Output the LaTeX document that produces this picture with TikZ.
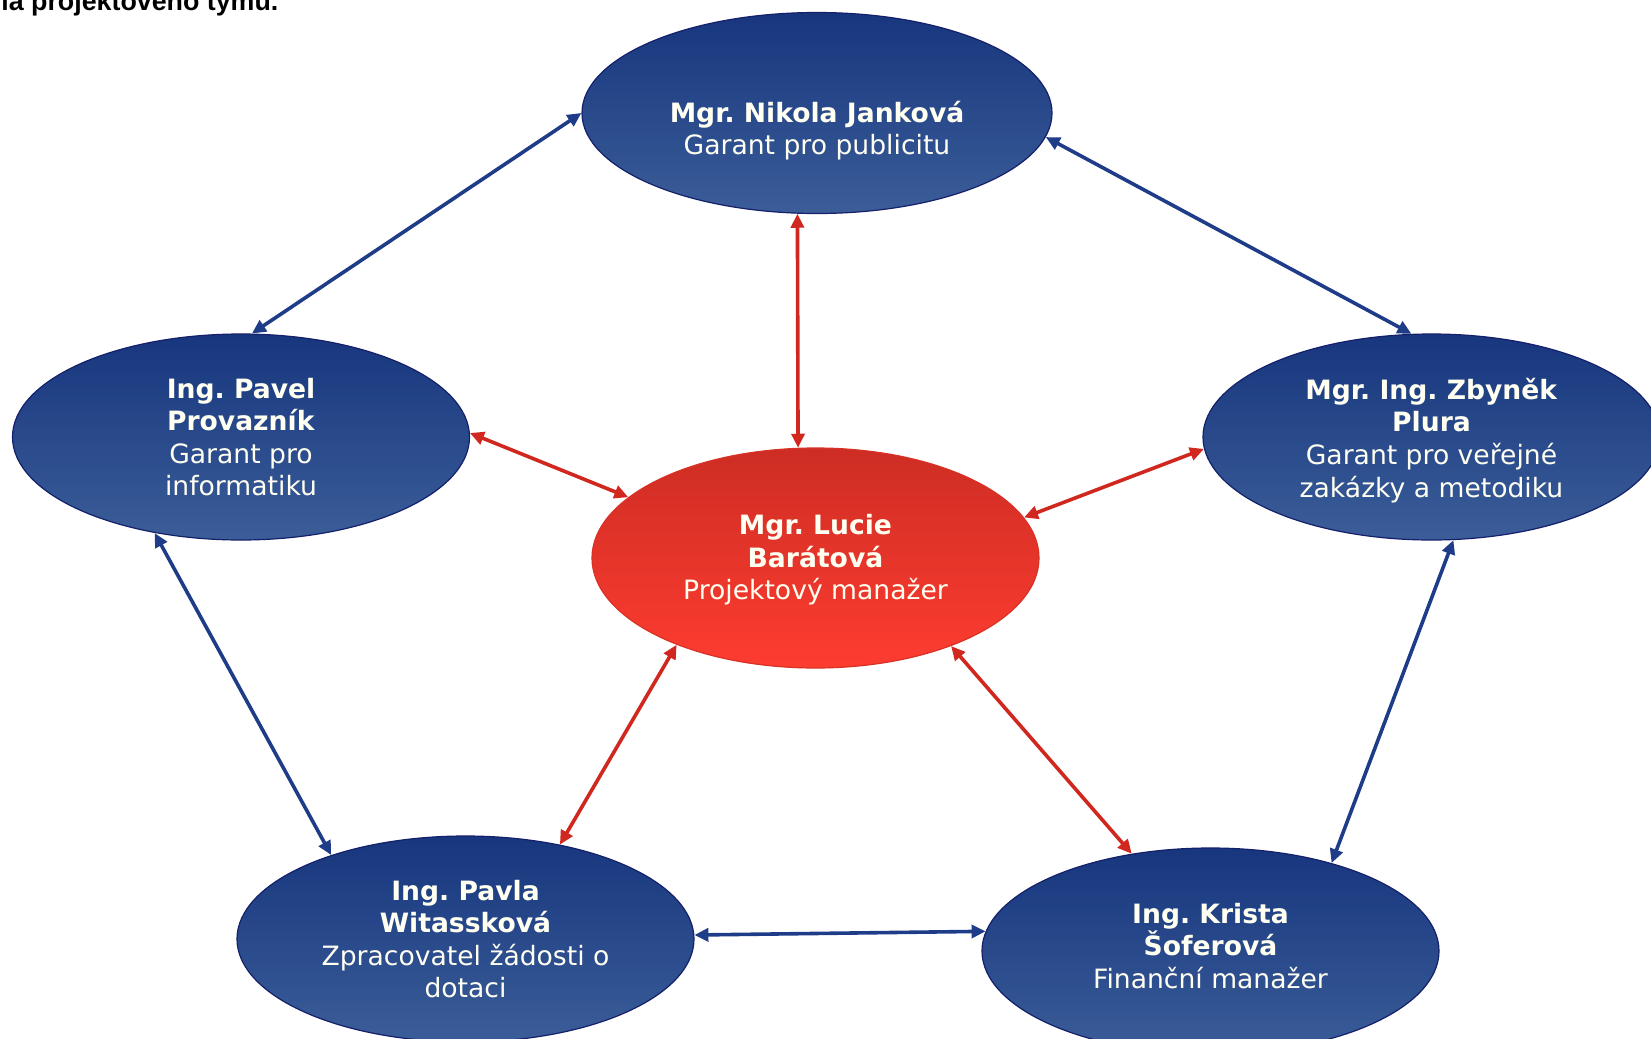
\documentclass[tikz,border=0pt]{standalone}
\usepackage{fontspec}
\setmainfont{DejaVu Sans}
\newfontfamily\headfont{Liberation Sans}
\usetikzlibrary{shapes.geometric,arrows.meta}
\definecolor{navytop}{HTML}{17367E}
\definecolor{navybot}{HTML}{3B5D98}
\definecolor{navyline}{HTML}{14206A}
\definecolor{redtop}{HTML}{CD2D24}
\definecolor{redbot}{HTML}{FE3C30}
\definecolor{redline}{HTML}{D83126}
\definecolor{bluelink}{HTML}{1F3C88}
\definecolor{redlink}{HTML}{D0281F}
\definecolor{ivory}{HTML}{FFFFF2}
\frenchspacing
\begin{document}
\begin{tikzpicture}[x=0.5pt,y=-0.5pt,
	member/.style={ellipse, draw=navyline, line width=0.6pt, top color=navytop, bottom color=navybot, text=ivory, align=center, inner sep=0pt, minimum width=228.5pt, minimum height=103pt, font=\fontsize{13.3}{16.3}\selectfont},
	leader/.style={member, draw=redline, top color=redtop, bottom color=redbot, minimum width=223.5pt, minimum height=110pt},
	link/.style={line width=1.8pt, {Triangle[length=7pt,width=6.5pt]}-{Triangle[length=7pt,width=6.5pt]}}]
		\useasboundingbox (0,0) rectangle (1651,1039);
		\node[anchor=base west, inner sep=0pt, font=\headfont\bfseries\fontsize{13.4}{16}\selectfont] (title) at (1,10) {la projektového týmu.};

		\node[member, minimum width=235pt, minimum height=100.5pt] (jankova) at (817,113) {\mbox{}\\[12pt]\textbf{Mgr. Nikola Janková}\\Garant pro publicitu};
		\node[member] (provaznik) at (241,437) {\textbf{Ing. Pavel}\\\textbf{Provazník}\\Garant pro\\informatiku};
		\node[member] (plura) at (1431.5,437) {\mbox{}\\[-2.3pt]\textbf{Mgr. Ing. Zbyněk}\\\textbf{Plura}\\Garant pro veřejné\\zakázky a metodiku};
		\node[leader] (baratova) at (815.5,558) {\mbox{}\\[-4.3pt]\textbf{Mgr. Lucie}\\\textbf{Barátová}\\Projektový manažer};
		\node[member] (witasskova) at (465.5,939) {\textbf{Ing. Pavla}\\\textbf{Witassková}\\Zpracovatel žádosti o\\dotaci};
		\node[member] (soferova) at (1210.5,951) {\textbf{Ing. Krista}\\\textbf{Šoferová}\\Finanční manažer\\[-11pt]\mbox{}};

		\draw[link, bluelink] (jankova.180) -- (provaznik.84.5);
		\draw[link, bluelink] (jankova.354.7) -- (plura.101.3);
		\draw[link, bluelink] (provaznik.228) -- (witasskova.148.6);
		\draw[link, bluelink] (plura.282) -- (soferova.36.2);
		\draw[link, bluelink] (witasskova.1.8) -- (soferova.175.3);

		\draw[link, redlink] (jankova.259.3) -- (baratova.99);
		\draw[link, redlink] (provaznik.1.3) -- (baratova.162.5);
		\draw[link, redlink] (plura.183.5) -- (baratova.11.9);
		\draw[link, redlink] (baratova.212.4) -- (witasskova.45.7);
		\draw[link, redlink] (baratova.327.4) -- (soferova.129.6);
	\end{tikzpicture}
\end{document}
